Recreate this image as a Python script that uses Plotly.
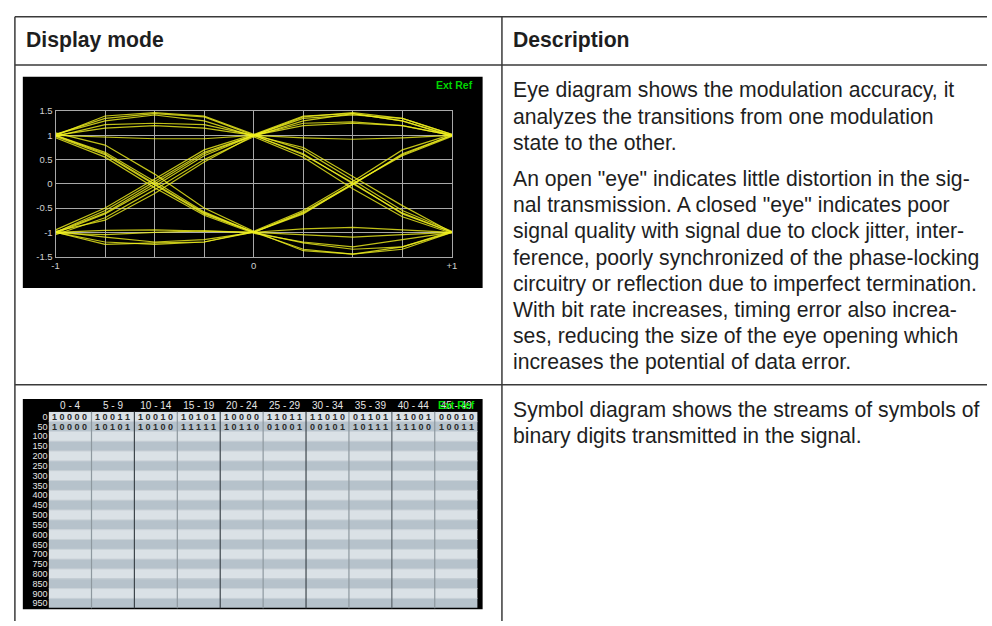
import plotly.graph_objects as go

W, H = 992, 626

# ---------------- data ----------------
HEADERS = ["Display mode", "Description"]

DESC_ROW1_P1 = [
    "Eye diagram shows the modulation accuracy, it",
    "analyzes the transitions from one modulation",
    "state to the other.",
]
DESC_ROW1_P2 = [
    "An open \"eye\" indicates little distortion in the sig-",
    "nal transmission. A closed \"eye\" indicates poor",
    "signal quality with signal due to clock jitter, inter-",
    "ference, poorly synchronized of the phase-locking",
    "circuitry or reflection due to imperfect termination.",
    "With bit rate increases, timing error also increa-",
    "ses, reducing the size of the eye opening which",
    "increases the potential of data error.",
]
DESC_ROW2 = [
    "Symbol diagram shows the streams of symbols of",
    "binary digits transmitted in the signal.",
]

# eye diagram: sample positions (symbol time) and traces
EYE_X = [-1, -0.75, -0.5, -0.25, 0, 0.25, 0.5, 0.75, 1]
EYE_TRACES = [
    [1.02, 1.35, 1.45, 1.38, 1.00, 1.38, 1.47, 1.35, 1.02],
    [0.98, 1.22, 1.25, 1.22, 1.00, 0.60, 0.02, -0.62, -1.00],
    [1.00, 0.62, 0.00, -0.60, -1.00, -0.58, 0.00, 0.60, 1.00],
    [1.00, 0.65, 0.05, -0.58, -1.00, -1.35, -1.45, -1.30, -0.98],
    [-1.00, -0.60, 0.00, 0.62, 1.00, 1.25, 1.28, 1.20, 1.00],
    [-1.02, -0.62, -0.05, 0.58, 1.00, 0.62, 0.00, -0.60, -1.00],
    [-1.00, -1.25, -1.22, -1.20, -1.00, -0.60, -0.02, 0.62, 1.00],
    [-0.98, -1.10, -1.20, -1.15, -1.00, -1.22, -1.35, -1.30, -1.00],
    [1.00, 0.97, 0.93, 0.93, 1.00, 0.95, 0.92, 0.95, 1.00],
    [-1.00, -0.96, -0.95, -0.98, -1.00, -0.93, -0.90, -0.95, -1.00],
    [1.05, 0.80, 0.20, -0.50, -0.98, -0.55, 0.05, 0.70, 1.02],
    [0.95, 0.55, -0.08, -0.65, -1.02, -1.20, -1.30, -1.15, -1.00],
    [-0.95, -0.50, 0.10, 0.70, 1.02, 1.40, 1.45, 1.30, 0.98],
    [-1.05, -0.70, -0.12, 0.50, 0.97, 0.55, -0.10, -0.68, -1.02],
    [1.00, 1.40, 1.47, 1.40, 1.02, 0.70, 0.08, -0.55, -0.98],
    [-1.00, -1.20, -1.25, -1.20, -0.98, -1.38, -1.45, -1.35, -1.00],
    [1.02, 1.30, 1.42, 1.30, 0.98, 1.30, 1.45, 1.30, 1.00],
    [-1.00, -0.55, 0.05, 0.65, 1.00, 1.35, 1.42, 1.35, 1.02],
    [0.98, 0.60, -0.02, -0.62, -1.00, -0.62, 0.00, 0.58, 0.98],
    [-1.02, -1.05, -1.00, -0.97, -1.00, -1.05, -1.10, -1.05, -1.00],
    [1.00, 1.15, 1.20, 1.15, 1.00, 1.20, 1.25, 1.20, 1.00],
    [-0.98, -0.75, -0.20, 0.45, 1.00, 0.75, 0.15, -0.45, -1.00],
]
EYE_YTICKS = [1.5, 1, 0.5, 0, -0.5, -1, -1.5]
EYE_YTICKTEXT = ["1.5", "1", "0.5", "0", "-0.5", "-1", "-1.5"]
EYE_XTICKTEXT = ["-1", "", "", "", "0", "", "", "", "+1"]

# symbol diagram
SYM_COLS = ["0 - 4", "5 - 9", "10 - 14", "15 - 19", "20 - 24",
            "25 - 29", "30 - 34", "35 - 39", "40 - 44", "45 - 49"]
SYM_ROWS = ["0", "50", "100", "150", "200", "250", "300", "350", "400", "450",
            "500", "550", "600", "650", "700", "750", "800", "850", "900", "950"]
SYM_ROW0 = ["10000", "10011", "10010", "10101", "10000",
            "11011", "11010", "01101", "11001", "00010"]
SYM_ROW1 = ["10000", "10101", "10100", "11111", "10110",
            "01001", "00101", "10111", "11100", "10011"]
ROW_SHADE = [0, 1, 0, 1, 0, 1, 0, 1, 0, 1, 0, 1, 0, 1, 0, 1, 0, 1, 0, 1]


def fx(x):
    return x / W


def fy(y):
    return 1 - y / H


fig = go.Figure()

# ---- eye diagram traces ----
for tr in EYE_TRACES:
    fig.add_trace(go.Scatter(
        x=EYE_X, y=tr, mode="lines",
        line=dict(color="rgba(240,240,30,0.8)", width=1.2),
        xaxis="x", yaxis="y", showlegend=False, hoverinfo="skip"))

# ---- symbol heatmap ----
text = []
for r in range(len(SYM_ROWS)):
    if r == 0:
        text.append([" ".join(s) for s in SYM_ROW0])
    elif r == 1:
        text.append([" ".join(s) for s in SYM_ROW1])
    else:
        text.append([""] * len(SYM_COLS))
z = [[ROW_SHADE[r]] * len(SYM_COLS) for r in range(len(SYM_ROWS))]
fig.add_trace(go.Heatmap(
    z=z, x=list(range(len(SYM_COLS))), y=list(range(len(SYM_ROWS))),
    text=text, texttemplate="<b>%{text}</b>",
    textfont=dict(size=9, color="#2a2a2a", family="Liberation Sans"),
    colorscale=[[0, "#dae1e6"], [1, "#b6c2cb"]], zmin=0, zmax=1,
    showscale=False, xaxis="x2", yaxis="y2", hoverinfo="skip"))

shapes = []
line_col = "#3a3a3a"
# table borders
shapes += [
    dict(type="line", xref="paper", yref="paper", x0=fx(11), x1=fx(992), y0=fy(11), y1=fy(11),
         line=dict(color=line_col, width=1.5)),
    dict(type="line", xref="paper", yref="paper", x0=fx(11), x1=fx(992), y0=fy(60), y1=fy(60),
         line=dict(color=line_col, width=1.5)),
    dict(type="line", xref="paper", yref="paper", x0=fx(11), x1=fx(992), y0=fy(385.5), y1=fy(385.5),
         line=dict(color=line_col, width=1.5)),
    dict(type="line", xref="paper", yref="paper", x0=fx(11), x1=fx(11), y0=fy(11), y1=fy(626),
         line=dict(color=line_col, width=1.5)),
    dict(type="line", xref="paper", yref="paper", x0=fx(502.5), x1=fx(502.5), y0=fy(11), y1=fy(626),
         line=dict(color=line_col, width=1.5)),
]
# black image backgrounds
shapes += [
    dict(type="rect", xref="paper", yref="paper", x0=fx(19), x1=fx(483), y0=fy(287), y1=fy(72),
         fillcolor="black", line=dict(width=0), layer="below"),
    dict(type="rect", xref="paper", yref="paper", x0=fx(19), x1=fx(483), y0=fy(614), y1=fy(400),
         fillcolor="black", line=dict(width=0), layer="below"),
]
# row separators (subtle) and column separators in symbol table
for i in range(len(SYM_ROWS) - 1):
    shapes.append(dict(type="line", xref="x2", yref="y2", x0=-0.5, x1=9.5, y0=i + 0.5, y1=i + 0.5,
                       line=dict(color="#c9d1d7", width=1)))
sep_cols = ["#8e989f", "#3e464c", "#8e989f", "#3e464c", "#8e989f",
            "#3e464c", "#8e989f", "#5c666d", "#8e989f"]
for i, c in enumerate(sep_cols):
    shapes.append(dict(type="line", xref="x2", yref="paper", x0=i + 0.5, x1=i + 0.5,
                       y0=fy(613), y1=fy(413), line=dict(color=c, width=1.2)))

TXT = "#1e1e1e"
FONT = "Liberation Sans, Arial, sans-serif"
annotations = []


def add_text(s, x, y, size=21.2, bold=False, color=TXT, xanchor="left", family=FONT):
    annotations.append(dict(
        text=f"<b>{s}</b>" if bold else s, x=fx(x), y=fy(y), xref="paper", yref="paper",
        xanchor=xanchor, yanchor="middle", showarrow=False,
        font=dict(size=size, color=color, family=family)))


add_text(HEADERS[0], 20, 35, bold=True)
add_text(HEADERS[1], 512, 35, bold=True)
for i, s in enumerate(DESC_ROW1_P1):
    add_text(s, 512, 86 + i * 26.67)
for i, s in enumerate(DESC_ROW1_P2):
    add_text(s, 512, 176 + i * 26.67)
for i, s in enumerate(DESC_ROW2):
    add_text(s, 512, 411 + i * 26.67)

add_text("Ext Ref", 455, 80, size=10.5, bold=True, color="#00d400", xanchor="center")
add_text("Ext Ref", 457, 406, size=10.5, bold=True, color="#00e000", xanchor="center")

grid_col = "#a8a8a8"
tick_font = dict(size=9.5, color="#d0d0d0", family="Liberation Sans, Arial")
sym_font = dict(size=9, color="#e6e6e6", family="Liberation Sans Narrow, Liberation Sans, Arial")
col_font = dict(size=10, color="#e6e6e6", family="Liberation Sans Narrow, Liberation Sans, Arial")

fig.update_layout(
    width=W, height=H, margin=dict(l=0, r=0, t=0, b=0),
    paper_bgcolor="white", plot_bgcolor="black",
    showlegend=False, shapes=shapes, annotations=annotations,
    xaxis=dict(domain=[fx(52), fx(452)], range=[-1, 1], tickvals=EYE_X, ticktext=EYE_XTICKTEXT,
               showgrid=True, gridcolor=grid_col, gridwidth=1, zeroline=False,
               showline=True, mirror=True, linecolor=grid_col, linewidth=1,
               ticks="", tickfont=tick_font, fixedrange=True, anchor="y"),
    yaxis=dict(domain=[fy(255), fy(107)], range=[-1.5, 1.5], tickvals=EYE_YTICKS, ticktext=EYE_YTICKTEXT,
               showgrid=True, gridcolor=grid_col, gridwidth=1, zeroline=False,
               showline=True, mirror=True, linecolor=grid_col, linewidth=1,
               ticks="", tickfont=tick_font, fixedrange=True, anchor="x"),
    xaxis2=dict(domain=[fx(45), fx(478)], range=[-0.5, 9.5], side="top",
                tickvals=list(range(len(SYM_COLS))), ticktext=SYM_COLS,
                showgrid=False, zeroline=False, showline=False, ticks="",
                tickfont=col_font, anchor="y2", fixedrange=True),
    yaxis2=dict(domain=[fy(613), fy(413)], range=[19.5, -0.5],
                tickvals=list(range(len(SYM_ROWS))), ticktext=SYM_ROWS,
                showgrid=False, zeroline=False, showline=False, ticks="",
                tickfont=sym_font, anchor="x2", fixedrange=True),
)

fig.write_html(
    "out.html",
    config={"displayModeBar": False},
    post_script="document.body.style.margin='0';document.body.style.overflow='hidden';",
)
